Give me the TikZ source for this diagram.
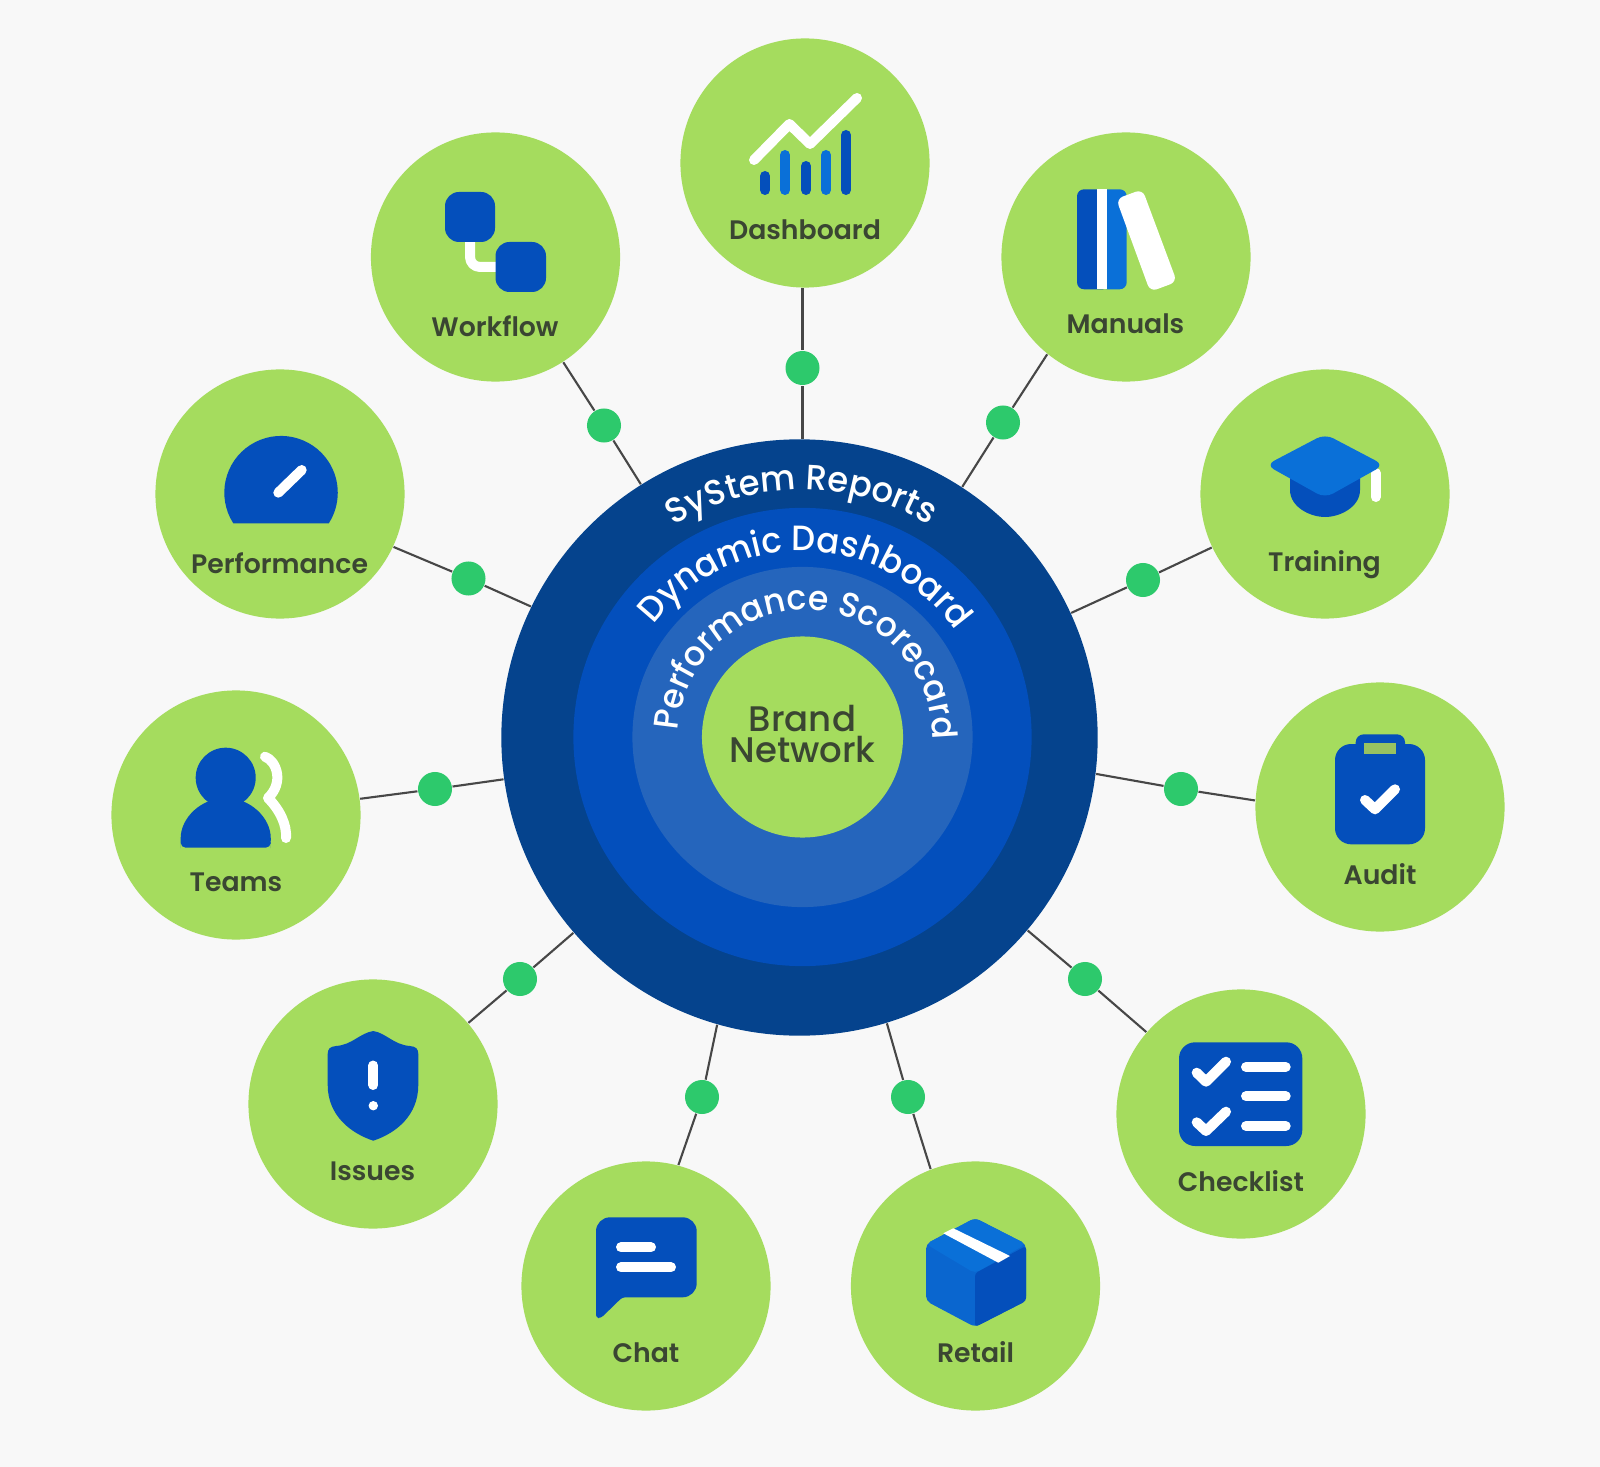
\documentclass[tikz,border=0pt]{standalone}
\usepackage{fontspec}
\usepackage{xcolor}
\usetikzlibrary{decorations.text}
\setmainfont{Poppins}
\newfontfamily\satfont{Poppins SemiBold}
\newfontfamily\corefam{Poppins Medium}
\newfontfamily\ringfam{Poppins Medium}[FakeStretch=0.96]
\newcommand{\ringfont}{\ringfam\fontsize{10}{12}\selectfont\color{white}}
\newcommand{\ringfontsmall}{\ringfam\fontsize{9.8}{12}\selectfont\color{white}}
\definecolor{pagebg}{HTML}{F8F8F8}
\definecolor{leaf}{HTML}{A5DC5E}
\definecolor{navyring}{HTML}{05438D}
\definecolor{bluering}{HTML}{034FBC}
\definecolor{paleblue}{HTML}{2565BC}
\definecolor{iconblue}{HTML}{044FBB}
\definecolor{iconlight}{HTML}{0A70D8}
\definecolor{iconmid}{HTML}{0A66CF}
\definecolor{dotgreen}{HTML}{2DC96C}
\definecolor{inktext}{HTML}{3A4632}
\tikzset{
    sat/.style={circle,fill=leaf,inner sep=0pt,minimum size=2.49cm},
    dotnode/.style={circle,fill=dotgreen,inner sep=0pt,minimum size=0.34cm},
    satlabel/.style={inner sep=0pt,text=inktext,font=\satfont\fontsize{7.6}{9}\selectfont},
    link/.style={draw=black!72,line width=0.6pt},
    white line/.style={draw=white,line width=0.1cm,line cap=round,line join=round},
    ringtext/.style={decorate,decoration={text along path,text={#1},text align=center}}
}
\begin{document}
\begin{tikzpicture}[x=0.01cm,y=-0.01cm]
            \useasboundingbox (0,0) rectangle (1600,1467);
            \fill[pagebg] (0,0) rectangle (1600,1467);

            % rings
            \node (hub) at (799.5,737.5) [circle,fill=navyring,inner sep=0pt,minimum size=5.96cm] {};
            \node (midring) at (802.5,737) [circle,fill=bluering,inner sep=0pt,minimum size=4.58cm] {};
            \node (innerring) at (802.5,737) [circle,fill=paleblue,inner sep=0pt,minimum size=3.40cm] {};
            \node (core) at (802.5,737) [circle,fill=leaf,inner sep=0pt,minimum size=2.01cm] {};
            \node (corelabel) at (802.5,734) [inner sep=0pt,text=inktext,align=center,font=\corefam\fontsize{10.1}{8.8}\selectfont] {Brand\\Network};

            \path[ringtext={|\ringfont|SyStem Reports}] (627.3,562.3) arc[start angle=135,end angle=45.3,radius=2.47cm];
            \path[ringtext={|\ringfont|Dynamic Dashboard}] (627.2,673.4) arc[start angle=160,end angle=17.5,radius=1.86cm];
            \path[ringtext={|\ringfontsmall|Performance Scorecard}] (685.7,780.4) arc[start angle=200,end angle=-24,radius=1.27cm];

            % satellites
            \node (dashboard) at (805,163) [sat] {};
            \node (workflow) at (495.5,257) [sat] {};
            \node (manuals) at (1126,257) [sat] {};
            \node (training) at (1325,494) [sat] {};
            \node (audit) at (1380,807) [sat] {};
            \node (checklist) at (1241,1114) [sat] {};
            \node (retail) at (975.5,1286) [sat] {};
            \node (chat) at (646,1286) [sat] {};
            \node (issues) at (373,1104) [sat] {};
            \node (teams) at (236,815) [sat] {};
            \node (performance) at (280,494) [sat] {};

            \node (dashboarddot) at (802.5,368) [dotnode] {};
            \node (workflowdot) at (604,425.5) [dotnode] {};
            \node (manualsdot) at (1003,422.5) [dotnode] {};
            \node (trainingdot) at (1143,580) [dotnode] {};
            \node (auditdot) at (1181,789) [dotnode] {};
            \node (checklistdot) at (1085,979) [dotnode] {};
            \node (retaildot) at (908,1097) [dotnode] {};
            \node (chatdot) at (702,1097) [dotnode] {};
            \node (issuesdot) at (520,979) [dotnode] {};
            \node (teamsdot) at (435,789) [dotnode] {};
            \node (performancedot) at (468.5,578.5) [dotnode] {};

            \draw[link] (dashboarddot |- hub.north) -- (dashboarddot) (dashboarddot) -- (dashboarddot |- dashboard.south);
            \draw[link] (hub) -- (workflowdot) (workflowdot) -- (workflow);
            \draw[link] (hub.57) -- (manualsdot) (manualsdot) -- (manuals.231.2);
            \draw[link] (hub) -- (trainingdot) (trainingdot) -- (training);
            \draw[link] (hub.-7.5) -- (auditdot) (auditdot) -- (audit.177.2);
            \draw[link] (hub) -- (checklistdot) (checklistdot) -- (checklist);
            \draw[link] (hub.287.2) -- (retaildot) (retaildot) -- (retail.111);
            \draw[link] (hub.254.2) -- (chatdot) (chatdot) -- (chat.75.9);
            \draw[link] (hub) -- (issuesdot) (issuesdot) -- (issues);
            \draw[link] (hub) -- (teamsdot) (teamsdot) -- (teams);
            \draw[link] (hub.154.8) -- (performancedot) (performancedot) -- (performance.-25.5);

            \node (dashboardlabel) at (805,229.6) [satlabel] {Dashboard};
            \node (workflowlabel) at (495,326.5) [satlabel] {Workflow};
            \node (manualslabel) at (1125.5,324) [satlabel] {Manuals};
            \node (traininglabel) at (1324.5,565) [satlabel] {Training};
            \node (auditlabel) at (1380,874) [satlabel] {Audit};
            \node (checklistlabel) at (1241,1181) [satlabel] {Checklist};
            \node (retaillabel) at (975.5,1352) [satlabel] {Retail};
            \node (chatlabel) at (646,1352.5) [satlabel] {Chat};
            \node (issueslabel) at (372.5,1171.5) [satlabel] {Issues};
            \node (teamslabel) at (236,882.5) [satlabel] {Teams};
            \node (performancelabel) at (279.5,563) [satlabel] {Performance};

            % dashboard icon
            \foreach \x/\y/\c in {765/176/iconblue,785/155/iconlight,806/166/iconblue,826/155/iconlight,846/135/iconblue}
                \draw[\c,line width=0.1cm,line cap=round] (\x,190) -- (\x,\y);
            \draw[white line] (754,160) -- (789.4,124) -- (810,144) -- (857,98);

            % workflow icon
            \draw[white line,line cap=butt,rounded corners=0.1cm] (470,240) -- (470,267) -- (497,267);
            \fill[iconblue,rounded corners=0.14cm] (445,192) rectangle (495,242);
            \fill[iconblue,rounded corners=0.14cm] (495.5,242) rectangle (546,292);

            % manuals icon
            \fill[iconblue,rounded corners=0.07cm] (1077,189.3) rectangle (1110,289.3);
            \fill[iconlight,rounded corners=0.07cm] (1100,189.3) rectangle (1126.7,289.3);
            \fill[white] (1097.3,189.3) rectangle (1106.7,289.3);
            \fill[white,rounded corners=0.07cm] (1116.2,199) -- (1142.4,189.3) -- (1176.9,281.8) -- (1150.2,291.7) -- cycle;

            % training icon
            \draw[white line] (1375.7,473) -- (1375.7,497);
            \fill[iconblue] (1290,470) -- (1290,490) .. controls (1290,507) and (1310,517) .. (1325,517) .. controls (1340,517) and (1360,507) .. (1360,490) -- (1360,470) -- cycle;
            \fill[iconlight,rounded corners=0.09cm] (1325,434) -- (1384,465) -- (1325,498) -- (1266,465) -- cycle;

            % audit icon
            \fill[iconblue,rounded corners=0.08cm] (1355.7,760) -- (1355.7,734.3) -- (1405,734.3) -- (1405,760) -- cycle;
            \fill[iconblue,rounded corners=0.16cm] (1335,744) rectangle (1425,844.3);
            \fill[leaf!85!black!90] (1364.3,743.3) rectangle (1396,754.3);
            \draw[white line] (1365,800) -- (1375,809.3) -- (1395,789.3);

            % checklist icon
            \fill[iconblue,rounded corners=0.16cm] (1179,1042.3) rectangle (1302.3,1146);
            \draw[white line] (1196.7,1072.7) -- (1206,1081.7) -- (1226,1061.7);
            \draw[white line] (1196.7,1122.3) -- (1206,1131) -- (1226,1111.7);
            \draw[white line] (1246,1067) -- (1285.7,1067);
            \draw[white line] (1246,1096.3) -- (1285.7,1096.3);
            \draw[white line] (1246,1126) -- (1285.7,1126);

            % retail icon
            \fill[iconmid,rounded corners=0.05cm] (975,1218) -- (1026,1244) -- (1026,1301) -- (975,1327) -- (926,1301) -- (926,1244) -- cycle;
            \fill[iconlight,rounded corners=0.05cm] (975,1218) -- (1026,1244) -- (975,1273.3) -- (926,1244) -- cycle;
            \fill[iconblue,rounded corners=0.03cm] (975,1273.3) -- (1026,1246) -- (1026,1301) -- (975,1327) -- cycle;
            \fill[white] (943.3,1233.3) -- (953.3,1228.3) -- (1010,1256) -- (998.3,1262.7) -- cycle;

            % chat icon
            \fill[iconblue,rounded corners=0.03cm] (622.3,1297.3) [rounded corners=0.14cm] -- (696.7,1297.3) -- (696.7,1217.3) -- (596,1217.3) [rounded corners=0.03cm] -- (596,1318) -- (601,1318) -- cycle;
            \draw[white line] (621,1247.3) -- (651,1247.3);
            \draw[white line] (621,1267.3) -- (671,1267.3);

            % issues icon
            \fill[iconblue] (373.3,1031) .. controls (360,1033) and (352,1045) .. (336,1046) .. controls (330,1046.5) and (327.7,1049) .. (327.7,1054) -- (327.7,1085) .. controls (327.7,1115) and (350,1133) .. (373.3,1140.7) .. controls (396.6,1133) and (418.3,1115) .. (418.3,1085) -- (418.3,1054) .. controls (418.3,1049) and (416,1046.5) .. (410,1046) .. controls (394,1045) and (386,1033) .. (373.3,1031) -- cycle;
            \draw[white line] (373.3,1065.5) -- (373.3,1085);
            \fill[white] (373.3,1105.7) circle[radius=0.047cm];

            % teams icon
            \fill[iconblue] (225.7,777.7) circle[radius=0.30cm];
            \fill[iconblue,rounded corners=0.05cm] (180.7,847.7) -- (180.7,843) arc[start angle=180,end angle=0,radius=0.45cm] -- (270.7,847.7) -- cycle;
            \draw[white line] (265,756.7) .. controls (277,761) and (284,783) .. (268,798) .. controls (280,810) and (287,825) .. (286,838);

            % performance icon
            \fill[iconblue] (233.3,523.3) arc[start angle=212.7,end angle=-32.7,radius=0.567cm] -- cycle;
            \draw[white line] (278.3,492.7) -- (301.7,470);
        \end{tikzpicture}
\end{document}
